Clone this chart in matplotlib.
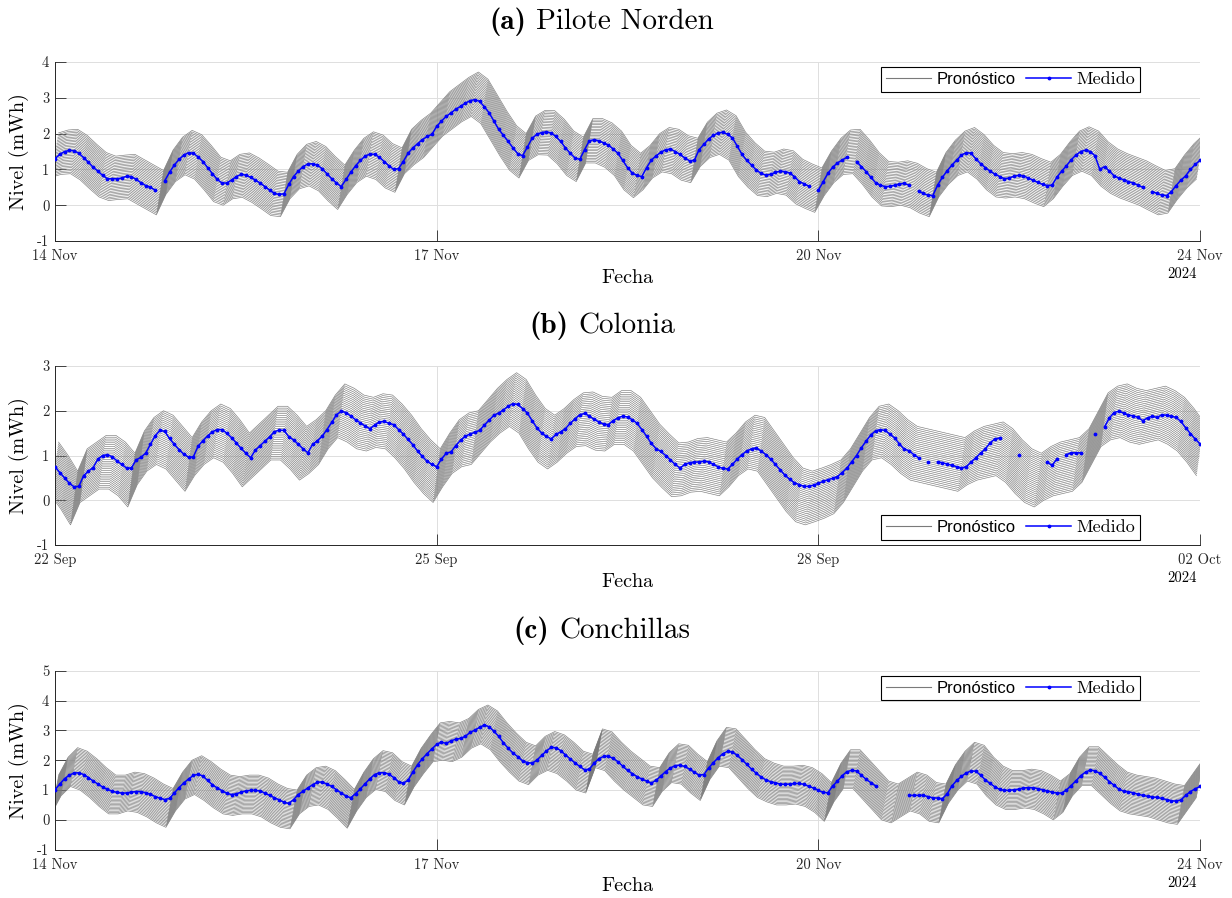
import numpy as np
import pandas as pd
import matplotlib
matplotlib.use('agg')
import matplotlib.pyplot as plt
from matplotlib.lines import Line2D

nan = np.nan

# ---- data: hourly measurements and 2-hourly forecast band centre ----
hours_med = np.arange(0, 241, 1)
hours_fc = np.arange(0, 241, 2)

a_start = '2024-11-14'
a_medido = [
    1.30, 1.42, 1.50, 1.53, 1.52, 1.45, 1.33, 1.20, 1.06, 0.95, 0.83, 0.74,
    0.74, 0.74, 0.76, 0.81, 0.80, 0.72, 0.63, 0.55, 0.50, 0.42, nan, 0.68,
    0.92, 1.12, 1.28, 1.40, 1.47, 1.45, 1.35, 1.22, 1.05, 0.88, 0.72, 0.62,
    0.62, 0.70, 0.80, 0.86, 0.84, 0.78, 0.70, 0.62, 0.52, 0.42, 0.33, 0.30,
    0.32, 0.58, 0.80, 0.95, 1.08, 1.15, 1.16, 1.12, 1.02, 0.88, 0.74, 0.62,
    0.52, 0.72, 0.92, 1.10, 1.25, 1.37, 1.43, 1.42, 1.34, 1.22, 1.10, 1.00,
    1.02, 1.22, 1.45, 1.60, 1.72, 1.83, 1.92, 1.98, 2.20, 2.35, 2.48, 2.58,
    2.68, 2.76, 2.85, 2.92, 2.95, 2.90, 2.75, 2.58, 2.35, 2.12, 1.95, 1.78,
    1.60, 1.44, 1.38, 1.62, 1.87, 1.98, 2.03, 2.05, 2.02, 1.92, 1.78, 1.60,
    1.45, 1.32, 1.28, 1.55, 1.80, 1.83, 1.80, 1.74, 1.68, 1.57, 1.45, 1.25,
    1.05, 0.90, 0.83, 0.80, 1.05, 1.26, 1.38, 1.48, 1.55, 1.57, 1.50, 1.42,
    1.32, 1.24, 1.25, 1.55, 1.70, 1.85, 1.95, 2.02, 2.04, 1.98, 1.88, 1.65,
    1.42, 1.25, 1.12, 0.98, 0.89, 0.84, 0.86, 0.92, 0.95, 0.94, 0.90, 0.80,
    0.66, 0.60, 0.53, nan, 0.42, 0.65, 0.89, 1.06, 1.18, 1.26, 1.34, nan,
    1.22, 1.08, 0.94, 0.78, 0.63, 0.56, 0.52, 0.53, 0.56, 0.59, 0.61, 0.56,
    nan, 0.40, 0.33, 0.28, 0.27, 0.56, 0.78, 0.96, 1.12, 1.26, 1.40, 1.47,
    1.45, 1.30, 1.16, 1.05, 0.95, 0.87, 0.80, 0.74, 0.76, 0.81, 0.83, 0.82,
    0.76, 0.70, 0.64, 0.58, 0.55, 0.56, 0.78, 0.95, 1.10, 1.27, 1.40, 1.50,
    1.54, 1.50, 1.38, 1.00, 1.08, 0.95, 0.82, 0.76, 0.71, 0.66, 0.62, 0.56,
    0.50, nan, 0.38, 0.33, 0.28, 0.27, 0.38, 0.55, 0.70, 0.82, 1.00, 1.14,
    1.25]
a_pronostico = [
    1.40, 1.48, 1.50, 1.33, 1.08, 0.85, 0.75, 0.78, 0.80, 0.65, 0.50, 0.35,
    0.92, 1.28, 1.47, 1.35, 1.05, 0.72, 0.62, 0.80, 0.84, 0.70, 0.52, 0.33,
    0.30, 0.80, 1.08, 1.16, 1.02, 0.74, 0.50, 0.92, 1.25, 1.43, 1.34, 1.10,
    0.98, 1.50, 1.75, 1.95, 2.25, 2.55, 2.75, 2.95, 3.10, 2.90, 2.45, 2.00,
    1.60, 1.38, 1.87, 2.03, 2.02, 1.78, 1.45, 1.28, 1.80, 1.80, 1.68, 1.45,
    1.05, 0.83, 1.05, 1.38, 1.55, 1.50, 1.32, 1.25, 1.70, 1.95, 2.04, 1.88,
    1.42, 1.12, 0.89, 0.86, 0.95, 0.90, 0.66, 0.53, 0.42, 0.89, 1.25, 1.48,
    1.50, 1.20, 0.85, 0.60, 0.58, 0.62, 0.55, 0.40, 0.30, 0.85, 1.20, 1.45,
    1.55, 1.35, 1.05, 0.85, 0.82, 0.85, 0.80, 0.68, 0.58, 0.80, 1.15, 1.45,
    1.57, 1.45, 1.15, 0.95, 0.82, 0.72, 0.62, 0.48, 0.35, 0.40, 0.78, 1.10,
    1.35]

b_start = '2024-09-22'
b_medido = [
    0.75, 0.62, 0.50, 0.38, 0.30, 0.31, 0.55, 0.65, 0.73, 0.92, 1.00, 1.02,
    0.97, 0.88, 0.80, 0.72, 0.72, 0.90, 0.96, 1.05, 1.25, 1.44, 1.56, 1.54,
    1.38, 1.25, 1.13, 1.03, 0.96, 0.97, 1.21, 1.33, 1.44, 1.53, 1.58, 1.58,
    1.50, 1.40, 1.28, 1.16, 1.05, 0.95, 1.12, 1.22, 1.32, 1.42, 1.53, 1.57,
    1.56, 1.42, 1.35, 1.25, 1.15, 1.06, 1.25, 1.33, 1.43, 1.58, 1.74, 1.91,
    1.99, 1.96, 1.88, 1.80, 1.73, 1.66, 1.60, 1.68, 1.75, 1.76, 1.72, 1.69,
    1.58, 1.48, 1.36, 1.24, 1.10, 0.98, 0.87, 0.80, 0.75, 0.92, 1.05, 1.08,
    1.22, 1.34, 1.43, 1.48, 1.52, 1.56, 1.68, 1.79, 1.90, 1.95, 2.02, 2.10,
    2.16, 2.14, 2.05, 1.95, 1.78, 1.62, 1.50, 1.43, 1.37, 1.47, 1.53, 1.60,
    1.72, 1.82, 1.91, 1.94, 1.88, 1.81, 1.75, 1.70, 1.69, 1.78, 1.84, 1.88,
    1.86, 1.80, 1.72, 1.58, 1.43, 1.27, 1.15, 1.09, 1.00, 0.90, 0.80, 0.72,
    0.80, 0.84, 0.85, 0.86, 0.87, 0.86, 0.80, 0.75, 0.71, 0.70, 0.80, 0.92,
    1.02, 1.10, 1.15, 1.17, 1.10, 1.02, 0.92, 0.80, 0.68, 0.56, 0.47, 0.39,
    0.35, 0.31, 0.31, 0.34, 0.38, 0.42, 0.46, 0.49, 0.53, 0.62, 0.72, 0.86,
    1.00, 1.17, 1.32, 1.46, 1.55, 1.58, 1.56, 1.48, 1.39, 1.26, 1.14, 1.11,
    1.02, 0.95, nan, 0.86, nan, 0.86, 0.84, 0.81, 0.78, 0.75, 0.72, 0.75,
    0.85, 0.95, 1.05, 1.15, 1.28, 1.37, 1.39, nan, nan, nan, 1.01, nan,
    nan, nan, nan, nan, 0.85, 0.78, 0.92, nan, 1.02, 1.06, 1.06, 1.06,
    nan, nan, 1.47, nan, 1.64, 1.84, 1.96, 1.99, 1.95, 1.90, 1.89, 1.85,
    1.78, 1.84, 1.88, 1.85, 1.91, 1.90, 1.88, 1.85, 1.76, 1.62, 1.49, 1.37,
    1.26]
b_pronostico = [
    0.70, 0.40, 0.05, 0.55, 0.70, 0.85, 0.85, 0.70, 0.45, 0.95, 1.25, 1.40,
    1.30, 1.05, 0.80, 1.15, 1.40, 1.55, 1.45, 1.20, 0.90, 1.10, 1.30, 1.50,
    1.50, 1.30, 1.05, 1.20, 1.40, 1.75, 2.00, 1.90, 1.75, 1.70, 1.78, 1.75,
    1.55, 1.30, 1.00, 0.75, 0.55, 0.90, 1.20, 1.35, 1.40, 1.65, 1.90, 2.10,
    2.25, 2.10, 1.75, 1.45, 1.30, 1.45, 1.65, 1.80, 1.82, 1.72, 1.70, 1.85,
    1.85, 1.70, 1.40, 1.10, 0.88, 0.68, 0.70, 0.78, 0.80, 0.75, 0.70, 0.90,
    1.15, 1.30, 1.25, 0.95, 0.65, 0.35, 0.12, 0.05, 0.12, 0.20, 0.30, 0.55,
    0.90, 1.25, 1.50, 1.55, 1.40, 1.20, 1.05, 1.00, 0.95, 0.90, 0.85, 0.80,
    0.95, 1.05, 1.10, 1.15, 1.00, 0.75, 0.55, 0.45, 0.60, 0.70, 0.75, 0.80,
    1.00, 1.40, 1.80, 1.95, 2.00, 1.90, 1.85, 1.90, 1.95, 1.85, 1.70, 1.45,
    1.15]

c_start = '2024-11-14'
c_medido = [
    1.01, 1.20, 1.38, 1.50, 1.57, 1.58, 1.52, 1.42, 1.30, 1.20, 1.10, 1.02,
    0.96, 0.92, 0.90, 0.90, 0.93, 0.95, 0.95, 0.91, 0.86, 0.78, 0.73, 0.68,
    0.72, 0.90, 1.08, 1.24, 1.37, 1.49, 1.53, 1.47, 1.32, 1.18, 1.07, 0.98,
    0.89, 0.85, 0.87, 0.93, 0.97, 0.99, 0.99, 0.97, 0.90, 0.82, 0.74, 0.67,
    0.59, 0.55, 0.68, 0.85, 0.96, 1.07, 1.18, 1.26, 1.27, 1.20, 1.12, 1.01,
    0.90, 0.80, 0.74, 0.88, 1.04, 1.21, 1.38, 1.52, 1.58, 1.58, 1.53, 1.42,
    1.28, 1.23, 1.33, 1.60, 1.85, 2.05, 2.22, 2.38, 2.53, 2.61, 2.56, 2.65,
    2.70, 2.73, 2.80, 2.93, 3.01, 3.10, 3.18, 3.12, 2.97, 2.80, 2.58, 2.40,
    2.24, 2.12, 1.98, 1.92, 1.90, 2.00, 2.16, 2.31, 2.43, 2.42, 2.32, 2.18,
    2.04, 1.91, 1.79, 1.68, 1.70, 1.90, 2.05, 2.13, 2.13, 2.06, 1.95, 1.80,
    1.66, 1.55, 1.45, 1.37, 1.30, 1.23, 1.33, 1.47, 1.62, 1.74, 1.82, 1.83,
    1.79, 1.70, 1.60, 1.50, 1.52, 1.74, 1.92, 2.08, 2.22, 2.30, 2.28, 2.16,
    2.02, 1.86, 1.70, 1.56, 1.44, 1.34, 1.28, 1.24, 1.20, 1.19, 1.20, 1.22,
    1.22, 1.19, 1.12, 1.07, 0.99, 0.92, 0.91, 1.13, 1.30, 1.48, 1.62, 1.66,
    1.64, 1.50, 1.36, 1.25, 1.14, nan, nan, nan, nan, nan, nan, 0.82,
    0.82, 0.82, 0.82, 0.78, 0.74, 0.73, 0.71, 0.87, 1.14, 1.32, 1.46, 1.57,
    1.64, 1.63, 1.50, 1.34, 1.22, 1.11, 1.02, 0.99, 0.99, 1.01, 1.03, 1.07,
    1.08, 1.08, 1.05, 1.01, 0.97, 0.93, 0.90, 0.90, 1.00, 1.15, 1.31, 1.48,
    1.60, 1.67, 1.64, 1.56, 1.43, 1.28, 1.16, 1.03, 0.96, 0.94, 0.91, 0.86,
    0.82, 0.79, 0.77, 0.75, 0.72, 0.68, 0.64, 0.63, 0.67, 0.82, 0.95, 1.04,
    1.12]
c_pronostico = [
    0.85, 1.45, 1.77, 1.65, 1.40, 1.10, 0.85, 0.85, 0.95, 0.90, 0.75, 0.55,
    0.40, 0.95, 1.35, 1.50, 1.30, 1.05, 0.85, 0.80, 0.85, 0.85, 0.75, 0.55,
    0.40, 0.35, 0.85, 1.10, 1.15, 1.00, 0.70, 0.37, 0.95, 1.40, 1.67, 1.60,
    1.30, 1.15, 1.75, 2.20, 2.60, 2.65, 2.60, 2.75, 3.05, 3.20, 3.00, 2.60,
    2.25, 1.95, 1.83, 2.15, 2.31, 2.20, 1.95, 1.65, 1.55, 2.40, 2.30, 1.95,
    1.65, 1.40, 1.15, 1.10, 1.60, 1.90, 1.85, 1.55, 1.30, 2.00, 2.45, 2.40,
    2.05, 1.70, 1.40, 1.25, 1.15, 1.15, 1.18, 1.10, 0.90, 0.60, 1.25, 1.70,
    1.70, 1.35, 1.00, 0.65, 0.55, 0.75, 0.95, 0.85, 0.60, 0.55, 1.20, 1.65,
    1.95, 1.85, 1.45, 1.15, 1.00, 1.00, 1.05, 1.00, 0.85, 0.65, 0.90, 1.45,
    1.80, 1.80, 1.50, 1.20, 0.95, 0.85, 0.80, 0.75, 0.65, 0.55, 0.50, 0.95,
    1.40]

panel_tags = ['(a)', '(b)', '(c)']
station_names = ['Pilote Norden', 'Colonia', 'Conchillas']
starts = [a_start, b_start, c_start]
medidos = [a_medido, b_medido, c_medido]
pronosticos = [a_pronostico, b_pronostico, c_pronostico]
ylims = [(-1, 4), (-1, 3), (-1, 5)]
band_half = [0.62, 0.60, 0.65]   # half spread of the forecast fan
legend_loc = ['upper right', 'lower right', 'upper right']

for m, p in zip(medidos, pronosticos):
    assert len(m) == len(hours_med) and len(p) == len(hours_fc)

plt.rcParams['font.family'] = 'serif'
plt.rcParams['font.serif'] = ['cmr10']
plt.rcParams['mathtext.fontset'] = 'cm'
plt.rcParams['axes.formatter.use_mathtext'] = True

W, H = 1232, 898
fig = plt.figure(figsize=(W / 100, H / 100), dpi=100)
renderer = fig.canvas.get_renderer()

ax_top_px = [62, 366, 670.7]
ax_h_px = 179
title_y_px = [22, 326, 631]
gray = '#7a7a7a'
dark = '#262626'
n_lines = 30
shear = 1.5  # hours, upper members drawn slightly later
title_size = 21


def two_part_title(x_px, y_px, tag, name):
    # bold tag + regular name, centred together
    t1 = fig.text(0, 1 - y_px / H, tag, fontfamily='cmb10', fontsize=title_size, va='center')
    t2 = fig.text(0, 1 - y_px / H, name, fontsize=title_size, va='center')
    w1 = t1.get_window_extent(renderer).width
    w2 = t2.get_window_extent(renderer).width
    gap = title_size * 100 / 72 * 0.33
    left = x_px - (w1 + gap + w2) / 2
    t1.set_x(left / W)
    t2.set_x((left + w1 + gap) / W)


for i in range(3):
    ax = fig.add_axes([55 / W, 1 - (ax_top_px[i] + ax_h_px) / H,
                       1145 / W, ax_h_px / H])

    # forecast fan
    hf = hours_fc.astype(float)
    pf = np.asarray(pronosticos[i], float)
    for k in range(n_lines):
        frac = k / (n_lines - 1)
        ax.plot(hf + shear * (frac - 0.5), pf + band_half[i] * (2 * frac - 1),
                color=gray, lw=0.45, zorder=2)

    # measurements
    ax.plot(hours_med, medidos[i], color='#0000ff', lw=1.1, marker='.',
            markersize=3.5, zorder=3)

    ax.set_xlim(0, 240)
    ax.set_ylim(*ylims[i])
    yt = np.arange(ylims[i][0], ylims[i][1] + 1)
    ax.set_yticks(yt)
    ax.set_yticklabels([str(v) for v in yt])
    tick_h = [0, 80, 160, 240]
    t0 = pd.Timestamp(starts[i])
    ax.set_xticks(tick_h)
    ax.set_xticklabels([(t0 + pd.Timedelta(hours=h)).strftime('%d %b') for h in tick_h])

    ax.grid(True, color='#dedede', lw=0.7)
    ax.set_axisbelow(True)
    for s in ['top', 'right']:
        ax.spines[s].set_visible(False)
    for s in ['left', 'bottom']:
        ax.spines[s].set_color(dark)
        ax.spines[s].set_linewidth(0.7)
    ax.tick_params(direction='in', length=8, width=0.6, colors=dark,
                   labelsize=10.5, pad=4)
    ax.tick_params(axis='x', pad=6)

    ax.set_xlabel('Fecha', fontsize=14.5, labelpad=4)
    ax.set_ylabel('Nivel (mWh)', fontsize=14.5, labelpad=6)
    ax.annotate(str(t0.year), xy=(1, 0), xycoords='axes fraction',
                xytext=(-2, -24), textcoords='offset points',
                ha='right', va='center', fontsize=10.5)

    two_part_title(602, title_y_px[i], panel_tags[i], station_names[i])

    handles = [Line2D([], [], color=gray, lw=0.8),
               Line2D([], [], color='#0000ff', lw=1.1, marker='.', markersize=3.5)]
    anchor_y = 0.972 if legend_loc[i].startswith('upper') else 0.028
    leg = ax.legend(handles, ['Pronóstico', 'Medido'], loc=legend_loc[i],
                    bbox_to_anchor=(0.9476, anchor_y), ncol=2,
                    fancybox=False, framealpha=1, edgecolor='black',
                    handlelength=2.5, handletextpad=0.3, columnspacing=0.6,
                    borderpad=0.25, borderaxespad=0, fontsize=13)
    leg.get_frame().set_linewidth(0.8)
    leg.get_texts()[0].set_fontfamily('Liberation Sans')
    leg.get_texts()[0].set_fontsize(12)

fig.savefig('out.png', dpi=100)
